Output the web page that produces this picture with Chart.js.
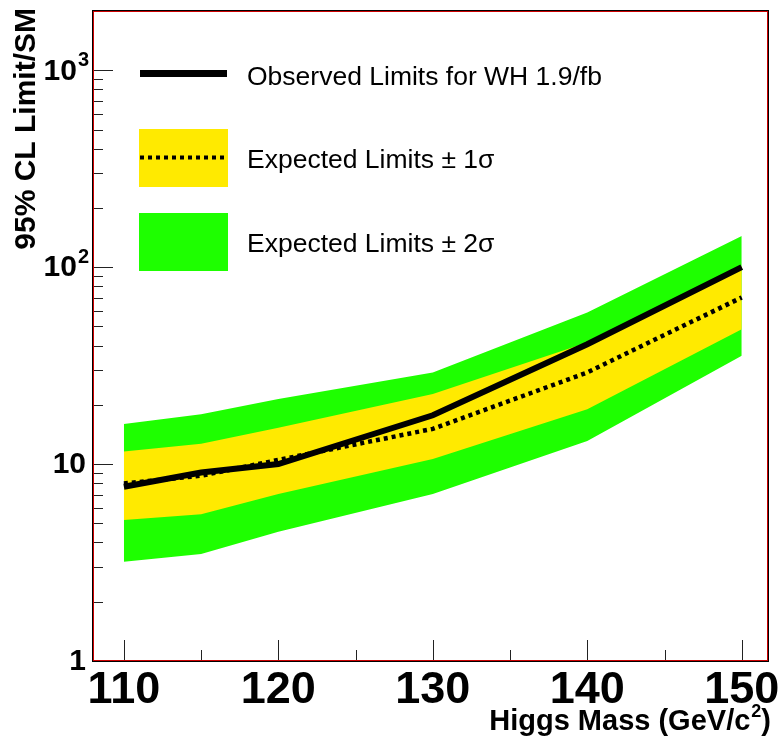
<!DOCTYPE html>
<html><head><meta charset="utf-8">
<script src="https://cdn.jsdelivr.net/npm/chart.js@4.4.1/dist/chart.umd.min.js"></script>
<style>html,body{margin:0;padding:0;background:#fff;}#wrap{width:779px;height:737px;position:relative;}</style>
</head><body><div id="wrap"><canvas id="c" width="779" height="737"></canvas></div>
<script>
// ---- data ----
const masses = [110, 115, 120, 130, 140, 150];
const observed = [7.67, 9.06, 10.0, 17.7, 40.6, 100];
const expected = [7.97, 8.73, 10.5, 15.1, 29.2, 70.2];
const plus1Sigma = [11.6, 12.7, 15.3, 22.7, 41.4, 101];
const minus1Sigma = [5.20, 5.57, 7.04, 10.6, 19.0, 48.4];
const plus2Sigma = [16.0, 17.9, 21.4, 29.2, 58.8, 144];
const minus2Sigma = [3.19, 3.49, 4.53, 7.04, 13.1, 35.5];

const xTickValues = [110, 120, 130, 140, 150];
const xTickLabels = ['110', '120', '130', '140', '150'];
const xMinorTicks = [115, 125, 135, 145];
const yTickValues = [1, 10, 100, 1000];
const yTickBase = ['1', '10', '10', '10'];
const yTickExp = ['', '', '2', '3'];
const legendLabels = ['Observed Limits for WH 1.9/fb', 'Expected Limits \u00b1 1\u03c3', 'Expected Limits \u00b1 2\u03c3'];
const xTitleMain = 'Higgs Mass (GeV/c';
const xTitleSup = '2';
const xTitleEnd = ')';
const yTitle = '95% CL Limit/SM';

const GREEN = 'rgb(30,255,0)';
const YELLOW = 'rgb(255,234,0)';
const FONT = '"Liberation Sans", Arial, Helvetica, sans-serif';

const pts = arr => masses.map((m, i) => ({x: m, y: arr[i]}));

const decorPlugin = {
  id: 'decor',
  afterDraw(chart) {
    const {ctx, chartArea: a, scales: {x, y}} = chart;
    ctx.save();
    const line = (x1, y1, x2, y2) => { ctx.beginPath(); ctx.moveTo(x1, y1); ctx.lineTo(x2, y2); ctx.stroke(); };
    // ticks inside frame
    ctx.strokeStyle = '#222'; ctx.lineWidth = 1;
    xTickValues.forEach(v => { const p = Math.round(x.getPixelForValue(v)) + 0.5; line(p, a.bottom, p, a.bottom - 21); });
    xMinorTicks.forEach(v => { const p = Math.round(x.getPixelForValue(v)) + 0.5; line(p, a.bottom, p, a.bottom - 11); });
    yTickValues.forEach(v => { const p = Math.round(y.getPixelForValue(v)) + 0.5; line(a.left, p, a.left + 20, p); });
    yTickValues.forEach(d => {
      for (let k = 2; k <= 9; k++) {
        const v = d * k;
        if (v > y.max) continue;
        const p = Math.round(y.getPixelForValue(v)) + 0.5;
        line(a.left, p, a.left + 10, p);
      }
    });
    // frame: black outer, red inner
    ctx.strokeStyle = '#000'; ctx.lineWidth = 1;
    ctx.strokeRect(a.left - 0.5, a.top - 0.5, a.right - a.left + 1, a.bottom - a.top + 1);
    ctx.strokeStyle = '#cc0000';
    ctx.strokeRect(a.left + 0.5, a.top + 0.5, a.right - a.left - 1, a.bottom - a.top - 1);

    // y tick labels (with superscript exponents)
    ctx.fillStyle = '#000';
    ctx.textBaseline = 'middle';
    yTickValues.forEach((v, i) => {
      const p = y.getPixelForValue(v);
      const ex = yTickExp[i];
      if (ex) {
        ctx.font = 'bold 20px ' + FONT; ctx.textAlign = 'right';
        ctx.fillText(ex, 89, p - 10);
        const we = ctx.measureText(ex).width;
        ctx.font = 'bold 30px ' + FONT;
        ctx.fillText(yTickBase[i], 89 - we - 1, p + 1);
      } else {
        ctx.font = 'bold 30px ' + FONT; ctx.textAlign = 'right';
        ctx.fillText(yTickBase[i], 86, p + 1);
      }
    });

    // legend
    const lx = 139, lw = 89, tx = 247;
    ctx.fillStyle = '#000'; ctx.strokeStyle = '#000';
    ctx.lineWidth = 7; ctx.setLineDash([]);
    line(lx + 1, 73.5, lx + lw - 1, 73.5);
    ctx.fillStyle = YELLOW; ctx.fillRect(lx, 129, lw, 58);
    ctx.lineWidth = 4; ctx.setLineDash([4, 4]);
    line(lx + 1, 157.5, lx + lw, 157.5);
    ctx.setLineDash([]);
    ctx.fillStyle = GREEN; ctx.fillRect(lx, 213, lw, 58);
    ctx.fillStyle = '#000';
    ctx.font = '26.5px ' + FONT; ctx.textAlign = 'left'; ctx.textBaseline = 'alphabetic';
    ctx.fillText(legendLabels[0], tx, 85);
    ctx.fillText(legendLabels[1], tx, 168);
    ctx.fillText(legendLabels[2], tx, 252);

    // x title (right-aligned, with superscript)
    ctx.font = 'bold 29px ' + FONT;
    const wMain = ctx.measureText(xTitleMain).width;
    const wEnd = ctx.measureText(xTitleEnd).width;
    ctx.font = 'bold 18px ' + FONT;
    const wSup = ctx.measureText(xTitleSup).width;
    const right = 771, base = 730;
    let cx = right - wEnd - wSup - wMain - 1;
    ctx.font = 'bold 29px ' + FONT;
    ctx.fillText(xTitleMain, cx, base);
    ctx.font = 'bold 18px ' + FONT;
    ctx.fillText(xTitleSup, cx + wMain + 1, base - 13);
    ctx.font = 'bold 29px ' + FONT;
    ctx.fillText(xTitleEnd, cx + wMain + wSup + 1, base);

    // y title (rotated, top-aligned)
    ctx.save();
    ctx.translate(35, 8);
    ctx.rotate(-Math.PI / 2);
    ctx.textAlign = 'right';
    ctx.font = 'bold 30px ' + FONT;
    ctx.fillText(yTitle, 0, 0);
    ctx.restore();
    ctx.restore();
  }
};

new Chart(document.getElementById('c'), {
  type: 'line',
  data: {
    datasets: [
      {label: 'Observed', data: pts(observed), borderColor: '#000', borderWidth: 6, pointRadius: 0, fill: false, order: 0, borderCapStyle: 'butt'},
      {label: 'Expected', data: pts(expected), borderColor: '#000', borderWidth: 4.5, borderDash: [4, 4], pointRadius: 0, fill: false, order: 1},
      {label: '+1s', data: pts(plus1Sigma), borderWidth: 0, borderColor: 'rgba(0,0,0,0)', backgroundColor: YELLOW, pointRadius: 0, fill: '+1', order: 2},
      {label: '-1s', data: pts(minus1Sigma), borderWidth: 0, borderColor: 'rgba(0,0,0,0)', pointRadius: 0, fill: false, order: 3},
      {label: '+2s', data: pts(plus2Sigma), borderWidth: 0, borderColor: 'rgba(0,0,0,0)', backgroundColor: GREEN, pointRadius: 0, fill: '+1', order: 4},
      {label: '-2s', data: pts(minus2Sigma), borderWidth: 0, borderColor: 'rgba(0,0,0,0)', pointRadius: 0, fill: false, order: 5}
    ]
  },
  options: {
    responsive: false,
    animation: false,
    events: [],
    elements: {line: {tension: 0}},
    layout: {padding: {left: 0, right: 11, top: 11, bottom: 0}},
    plugins: {legend: {display: false}, tooltip: {enabled: false}, title: {display: false}},
    scales: {
      x: {
        type: 'linear', min: 108, max: 151.7,
        grid: {display: false, drawTicks: false}, border: {display: false},
        afterBuildTicks: s => { s.ticks = xTickValues.map(v => ({value: v})); },
        afterFit: s => { s.height = 76; s.paddingLeft = 0; s.paddingRight = 0; },
        ticks: {autoSkip: false, maxRotation: 0, padding: 3, color: '#000',
          font: {family: FONT, size: 45, weight: 'bold'},
          callback: v => xTickLabels[xTickValues.indexOf(v)]}
      },
      y: {
        type: 'logarithmic', min: 1, max: 2000,
        grid: {display: false, drawTicks: false}, border: {display: false},
        afterBuildTicks: s => { s.ticks = yTickValues.map(v => ({value: v})); },
        afterFit: s => { s.width = 93; s.paddingTop = 0; s.paddingBottom = 0; },
        ticks: {display: false}
      }
    }
  },
  plugins: [decorPlugin]
});
</script></body></html>
